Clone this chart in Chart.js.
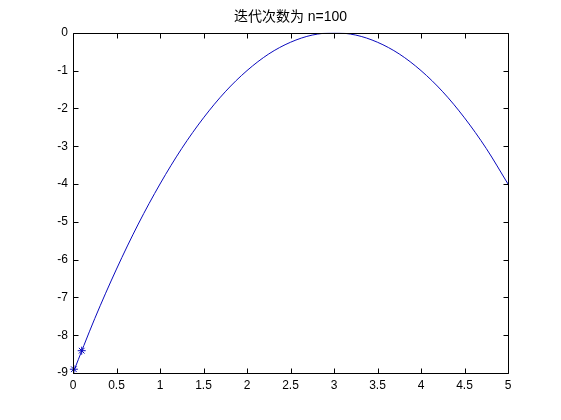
<!DOCTYPE html>
<html>
<head>
<meta charset="utf-8">
<script src="https://cdn.jsdelivr.net/npm/chart.js@4/dist/chart.umd.min.js"></script>
<style>
  html, body { margin: 0; padding: 0; background: #fff; }
  #wrap { position: relative; width: 561px; height: 420px; }
</style>
</head>
<body>
<div id="wrap"><canvas id="chart"></canvas></div>
<script>
const titleText = '迭代次数为 n=100';

// curve
const curveX = [0, 0.25, 0.5, 0.75, 1, 1.25, 1.5, 1.75, 2, 2.25, 2.5,
                2.75, 3, 3.25, 3.5, 3.75, 4, 4.25, 4.5, 4.75, 5];
const curveY = [-9, -7.56, -6.25, -5.06, -4, -3.06, -2.25, -1.56, -1, -0.56, -0.25,
                -0.06, 0, -0.06, -0.25, -0.56, -1, -1.56, -2.25, -3.06, -4];

// iteration points (star markers)
const iterX = [0.01, 0.1];
const iterY = [-8.9, -8.41];

const xTicks = [0, 0.5, 1, 1.5, 2, 2.5, 3, 3.5, 4, 4.5, 5];
const yTicks = [-9, -8, -7, -6, -5, -4, -3, -2, -1, 0];

const BLUE = 'rgb(10, 10, 190)';
const FONT = { family: '"Liberation Sans", Arial, sans-serif', size: 12 };

// MATLAB style box with inward ticks on all four sides
const boxPlugin = {
    id: 'matlab_box',
    afterDraw: (chart) => {
        const ctx = chart.ctx;
        const a = chart.chartArea;
        const sx = chart.scales.x, sy = chart.scales.y;
        const L = Math.round(a.left) + 0.5, R = Math.round(a.right) + 0.5;
        const T = Math.round(a.top) + 0.5, B = Math.round(a.bottom) + 0.5;
        ctx.save();
        ctx.strokeStyle = '#000';
        ctx.lineWidth = 1;
        ctx.beginPath();
        ctx.rect(L, T, R - L, B - T);
        xTicks.forEach(v => {
            const px = Math.round(sx.getPixelForValue(v)) + 0.5;
            ctx.moveTo(px, B); ctx.lineTo(px, B - 5);
            ctx.moveTo(px, T); ctx.lineTo(px, T + 5);
        });
        yTicks.forEach(v => {
            const py = Math.round(sy.getPixelForValue(v)) + 0.5;
            ctx.moveTo(L, py); ctx.lineTo(L + 5, py);
            ctx.moveTo(R, py); ctx.lineTo(R - 5, py);
        });
        ctx.stroke();
        ctx.restore();
    }
};

new Chart(document.getElementById('chart'), {
    type: 'line',
    data: {
        datasets: [
            {
                data: curveX.map((x, i) => ({ x: x, y: curveY[i] })),
                borderColor: BLUE,
                borderWidth: 1,
                pointRadius: 0,
                fill: false,
                cubicInterpolationMode: 'monotone'
            },
            {
                data: iterX.map((x, i) => ({ x: x, y: iterY[i] })),
                showLine: false,
                clip: false,
                pointStyle: 'star',
                pointRadius: 4,
                borderColor: BLUE,
                backgroundColor: BLUE,
                pointBorderWidth: 1
            }
        ]
    },
    options: {
        responsive: true,
        maintainAspectRatio: false,
        animation: false,
        layout: { padding: { left: 0, right: 53, top: 0, bottom: 0 } },
        plugins: {
            legend: { display: false },
            tooltip: { enabled: false },
            title: {
                display: true,
                text: titleText,
                fullSize: false,
                color: '#000',
                font: { family: '"Liberation Sans", "Noto Sans CJK SC", sans-serif', size: 14, weight: 'normal' },
                lineHeight: 1.1,
                padding: { top: 9, bottom: 7 }
            }
        },
        scales: {
            x: {
                type: 'linear',
                min: 0,
                max: 5,
                afterBuildTicks: (s) => { s.ticks = xTicks.map(v => ({ value: v })); },
                afterFit: (s) => { s.height = 47; },
                grid: { display: false, drawTicks: false },
                border: { display: false },
                ticks: { color: '#000', font: FONT, padding: 5, maxRotation: 0, autoSkip: false,
                         callback: (v) => String(v) }
            },
            y: {
                type: 'linear',
                min: -9,
                max: 0,
                afterBuildTicks: (s) => { s.ticks = yTicks.map(v => ({ value: v })); },
                afterFit: (s) => { s.width = 73; },
                grid: { display: false, drawTicks: false },
                border: { display: false },
                ticks: { color: '#000', font: FONT, padding: 5, autoSkip: false,
                         callback: (v) => String(v) }
            }
        }
    },
    plugins: [boxPlugin]
});
</script>
</body>
</html>
